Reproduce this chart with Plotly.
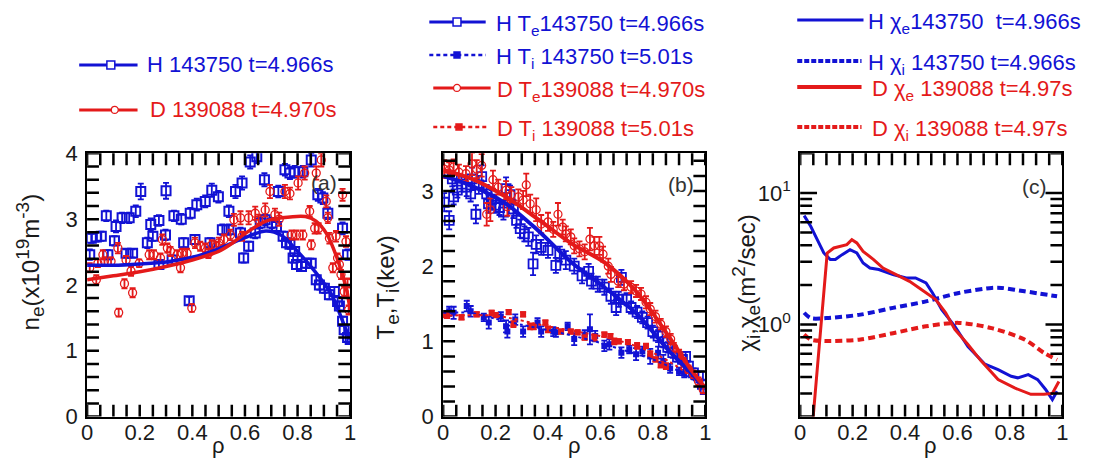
import plotly.graph_objects as go

BLUE = "#1212d4"
RED = "#e41a1a"
FONT = "Liberation Sans, Arial, sans-serif"
W, H = 1096, 463

# ---------------- panel (a): n_e ----------------
a_h_rho = [0.01, 0.016, 0.035, 0.054, 0.073, 0.079, 0.104, 0.11, 0.133, 0.148, 0.16, 0.173, 0.185, 0.204,
           0.229, 0.242, 0.25, 0.273, 0.273, 0.298, 0.30, 0.323, 0.33, 0.358, 0.367, 0.388, 0.392, 0.41,
           0.417, 0.449, 0.467, 0.474, 0.499, 0.514, 0.539, 0.539, 0.564, 0.583, 0.589, 0.595, 0.614,
           0.62, 0.639, 0.645, 0.658, 0.674, 0.677, 0.702, 0.72, 0.727, 0.745, 0.752, 0.758, 0.771,
           0.771, 0.783, 0.789, 0.789, 0.796, 0.815, 0.82, 0.833, 0.852, 0.852, 0.871, 0.877, 0.883,
           0.896, 0.902, 0.915, 0.921, 0.94, 0.952, 0.959, 0.971, 0.971, 0.977, 0.99, 0.99, 1.0]
a_h_ne = [2.46, 2.71, 2.73, 2.74, 3.05, 2.46, 2.67, 2.89, 3.02, 2.48, 3.02, 2.48, 3.12, 3.42,
          2.64, 2.92, 2.74, 2.98, 2.31, 2.76, 3.43, 2.38, 3.05, 3.00, 2.64, 1.76, 3.09, 2.69,
          3.22, 3.27, 2.64, 3.44, 3.34, 2.84, 3.12, 2.84, 3.42, 2.79, 3.55, 2.41, 2.59,
          3.87, 2.79, 3.95, 2.94, 3.60, 2.99, 2.94, 2.89, 3.42, 2.74, 3.75, 2.64, 3.70,
          2.62, 2.41, 3.72, 2.51, 2.31, 2.28, 3.72, 2.33, 3.90, 2.33, 2.08, 3.37, 2.00,
          3.32, 1.95, 3.09, 1.85, 1.90, 1.75, 1.68, 2.86, 1.45, 1.32, 2.46, 1.20, 1.17]
a_h_err = [0.08, 0.07, 0.07, 0.07, 0.08, 0.07, 0.07, 0.09, 0.08, 0.06, 0.08, 0.06, 0.09, 0.12,
           0.08, 0.09, 0.07, 0.08, 0.07, 0.08, 0.12, 0.07, 0.08, 0.08, 0.07, 0.06, 0.08, 0.07,
           0.09, 0.09, 0.07, 0.1, 0.09, 0.08, 0.09, 0.08, 0.1, 0.08, 0.1, 0.07, 0.07,
           0.1, 0.08, 0.1, 0.08, 0.1, 0.08, 0.08, 0.08, 0.09, 0.07, 0.09, 0.07, 0.09,
           0.07, 0.07, 0.09, 0.07, 0.07, 0.07, 0.09, 0.07, 0.1, 0.07, 0.07, 0.09, 0.07,
           0.09, 0.07, 0.09, 0.07, 0.07, 0.07, 0.07, 0.09, 0.07, 0.07, 0.08, 0.06, 0.06]
a_d_rho = [0.01, 0.035, 0.041, 0.06, 0.066, 0.091, 0.117, 0.12, 0.142, 0.148, 0.167, 0.173, 0.198,
           0.236, 0.254, 0.279, 0.286, 0.305, 0.317, 0.342, 0.355, 0.361, 0.38, 0.398, 0.41, 0.43,
           0.449, 0.461, 0.474, 0.492, 0.501, 0.52, 0.545, 0.558, 0.583, 0.589, 0.614, 0.639, 0.652,
           0.677, 0.695, 0.714, 0.73, 0.752, 0.771, 0.777, 0.796, 0.802, 0.82, 0.827, 0.846, 0.852,
           0.865, 0.871, 0.88, 0.89, 0.909, 0.915, 0.921, 0.934, 0.946, 0.952, 0.959, 0.965, 0.971,
           0.977, 0.984, 0.99, 0.994]
a_d_ne = [2.26, 2.08, 2.33, 2.46, 2.36, 2.36, 2.56, 1.58, 2.02, 2.38, 2.21, 1.88, 2.33,
          2.46, 2.46, 2.41, 2.69, 2.56, 2.51, 2.46, 2.26, 2.48, 2.48, 1.65, 2.64, 2.59,
          2.56, 2.48, 2.61, 2.59, 2.64, 2.69, 2.76, 2.99, 3.02, 2.74, 3.02, 3.09, 2.99,
          3.14, 3.42, 3.07, 3.00, 3.42, 3.39, 2.76, 2.76, 3.55, 2.76, 3.70, 3.12, 2.61,
          2.86, 3.70, 2.86, 3.90, 3.27, 3.02, 2.71, 2.26, 2.74, 2.41, 2.31, 2.16, 3.37,
          1.90, 2.66, 2.03, 1.62]
a_d_err = [0.07, 0.07, 0.06, 0.07, 0.06, 0.06, 0.08, 0.06, 0.07, 0.06, 0.07, 0.07, 0.06,
           0.07, 0.07, 0.07, 0.08, 0.07, 0.07, 0.07, 0.07, 0.07, 0.07, 0.06, 0.08, 0.07,
           0.07, 0.07, 0.07, 0.07, 0.08, 0.08, 0.08, 0.09, 0.1, 0.07, 0.1, 0.1, 0.08,
           0.1, 0.1, 0.09, 0.1, 0.1, 0.09, 0.07, 0.07, 0.1, 0.07, 0.1, 0.08, 0.07,
           0.08, 0.1, 0.08, 0.1, 0.09, 0.08, 0.08, 0.07, 0.08, 0.07, 0.07, 0.07, 0.09,
           0.07, 0.08, 0.07, 0.07]
a_h_fit_rho = [0.0, 0.1, 0.2, 0.3, 0.4, 0.5, 0.6, 0.68, 0.74, 0.8, 0.865, 0.93, 0.977, 1.0]
a_h_fit_ne = [2.30, 2.30, 2.32, 2.35, 2.42, 2.55, 2.72, 2.82, 2.75, 2.51, 2.21, 1.85, 1.39, 1.17]
a_d_fit_rho = [0.0, 0.1, 0.2, 0.3, 0.4, 0.5, 0.55, 0.6, 0.68, 0.74, 0.83, 0.87, 0.91, 0.95, 0.985, 1.0]
a_d_fit_ne = [2.08, 2.14, 2.20, 2.28, 2.38, 2.51, 2.63, 2.78, 2.97, 3.02, 3.04, 2.97, 2.78, 2.41, 1.95, 1.62]

# ---------------- panel (b): Te, Ti ----------------
b_hte_rho = [0.004, 0.023, 0.035, 0.04, 0.054, 0.07, 0.09, 0.105, 0.11, 0.125, 0.136, 0.147, 0.166,
             0.173, 0.185, 0.2, 0.215, 0.23, 0.24, 0.255, 0.268, 0.28, 0.294, 0.31, 0.325, 0.343,
             0.355, 0.374, 0.4, 0.43, 0.445, 0.468, 0.5, 0.53, 0.555, 0.566, 0.59, 0.615, 0.64,
             0.66, 0.67, 0.68, 0.70, 0.717, 0.74, 0.76, 0.78, 0.80, 0.82, 0.84, 0.857, 0.876,
             0.894, 0.913, 0.925, 0.936, 0.955, 0.974, 0.989, 1.0]
b_hte_t = [2.85, 2.61, 3.16, 2.92, 3.01, 3.09, 3.05, 2.96, 3.16, 2.69, 3.08, 3.19, 2.96,
           2.83, 2.89, 2.81, 2.78, 2.72, 3.03, 2.95, 2.76, 2.61, 2.50, 2.43, 2.39, 2.03,
           2.29, 2.25, 2.21, 2.01, 2.16, 2.08, 2.00, 1.87, 1.93, 1.80, 1.76, 1.72, 1.60,
           1.45, 1.56, 1.85, 1.56, 1.45, 1.39, 1.32, 1.25, 1.13, 1.07, 0.99, 0.92, 0.85,
           0.79, 0.76, 0.80, 0.67, 0.58, 0.54, 0.43, 0.36]
b_hte_err = [0.12, 0.12, 0.1, 0.1, 0.1, 0.1, 0.12, 0.1, 0.15, 0.12, 0.12, 0.15, 0.12,
             0.12, 0.12, 0.1, 0.1, 0.1, 0.15, 0.12, 0.12, 0.1, 0.12, 0.1, 0.12, 0.15,
             0.12, 0.1, 0.1, 0.1, 0.1, 0.12, 0.1, 0.1, 0.1, 0.1, 0.1, 0.1, 0.1,
             0.1, 0.1, 0.1, 0.08, 0.08, 0.08, 0.08, 0.08, 0.08, 0.08, 0.07, 0.07, 0.07,
             0.06, 0.06, 0.06, 0.06, 0.06, 0.05, 0.05, 0.05]
b_dte_rho = [0.004, 0.023, 0.04, 0.06, 0.087, 0.11, 0.128, 0.147, 0.166, 0.18, 0.19, 0.21, 0.24,
             0.245, 0.26, 0.287, 0.305, 0.317, 0.332, 0.355, 0.374, 0.40, 0.42, 0.438, 0.456, 0.468,
             0.487, 0.50, 0.52, 0.54, 0.56, 0.577, 0.596, 0.61, 0.63, 0.64, 0.668, 0.69, 0.717,
             0.736, 0.755, 0.774, 0.79, 0.81, 0.83, 0.85, 0.868, 0.88, 0.90, 0.917, 0.936, 0.955,
             0.974, 0.992]
b_dte_t = [3.29, 3.28, 3.32, 3.25, 3.23, 3.36, 3.29, 3.34, 2.69, 2.75, 3.15, 3.05, 3.01,
           2.79, 2.95, 2.92, 2.88, 3.08, 2.83, 2.75, 2.56, 2.59, 2.49, 2.69, 2.52, 2.43,
           2.39, 2.27, 2.23, 2.19, 2.36, 2.27, 2.27, 2.16, 2.00, 1.89, 1.80, 1.76, 1.72,
           1.67, 1.63, 1.52, 1.43, 1.33, 1.23, 1.13, 1.03, 0.92, 0.83, 0.72, 0.63, 0.56,
           0.47, 0.36]
b_dte_err = [0.12, 0.1, 0.1, 0.1, 0.1, 0.15, 0.12, 0.15, 0.15, 0.15, 0.12, 0.1, 0.12,
             0.12, 0.1, 0.1, 0.12, 0.15, 0.12, 0.15, 0.12, 0.12, 0.1, 0.15, 0.1, 0.1,
             0.1, 0.1, 0.1, 0.1, 0.15, 0.12, 0.12, 0.1, 0.1, 0.1, 0.08, 0.08, 0.08,
             0.08, 0.08, 0.08, 0.08, 0.08, 0.07, 0.07, 0.07, 0.06, 0.06, 0.06, 0.05, 0.05,
             0.05, 0.05]
b_hti_rho = [0.023, 0.04, 0.09, 0.105, 0.155, 0.174, 0.22, 0.24, 0.245, 0.275, 0.305, 0.36, 0.374,
             0.42, 0.43, 0.475, 0.50, 0.54, 0.56, 0.58, 0.615, 0.634, 0.68, 0.71, 0.736, 0.76,
             0.79, 0.82, 0.84, 0.866, 0.90, 0.92]
b_hti_t = [1.40, 1.38, 1.47, 1.40, 1.32, 1.25, 1.33, 1.20, 1.13, 1.29, 1.13, 1.25, 1.13,
           1.13, 1.12, 1.20, 1.03, 1.09, 1.16, 1.07, 0.94, 0.96, 0.85, 0.89, 0.83, 0.87,
           0.80, 0.85, 0.74, 0.64, 0.60, 0.57]
b_hti_err = [0.06, 0.08, 0.07, 0.07, 0.05, 0.08, 0.06, 0.08, 0.08, 0.07, 0.07, 0.06, 0.07,
             0.06, 0.06, 0.05, 0.08, 0.06, 0.2, 0.07, 0.07, 0.07, 0.07, 0.05, 0.08, 0.06,
             0.1, 0.08, 0.08, 0.06, 0.05, 0.05]
b_dti_rho = [0.004, 0.015, 0.07, 0.128, 0.185, 0.2, 0.25, 0.268, 0.305, 0.332, 0.345, 0.39, 0.40,
             0.45, 0.487, 0.513, 0.54, 0.577, 0.615, 0.638, 0.653, 0.67, 0.705, 0.74, 0.774, 0.79,
             0.81, 0.83, 0.85]
b_dti_t = [1.35, 1.34, 1.32, 1.36, 1.38, 1.35, 1.39, 1.23, 1.36, 1.20, 1.19, 1.25, 1.16,
           1.13, 1.13, 1.12, 1.05, 1.05, 1.09, 1.07, 1.00, 1.00, 0.99, 0.94, 0.94, 0.83,
           0.76, 0.69, 0.67]
b_dti_err = [0.03, 0.03, 0.03, 0.03, 0.03, 0.03, 0.03, 0.04, 0.03, 0.04, 0.03, 0.03, 0.04,
             0.03, 0.03, 0.03, 0.03, 0.04, 0.03, 0.03, 0.04, 0.03, 0.03, 0.04, 0.03, 0.04,
             0.03, 0.04, 0.04]
b_hte_fit_rho = [0.0, 0.1, 0.24, 0.36, 0.49, 0.615, 0.74, 0.868, 0.94, 1.0]
b_hte_fit_t = [3.20, 3.08, 2.83, 2.48, 2.05, 1.72, 1.36, 0.85, 0.60, 0.38]
b_dte_fit_rho = [0.0, 0.11, 0.24, 0.36, 0.49, 0.615, 0.74, 0.868, 0.94, 1.0]
b_dte_fit_t = [3.28, 3.16, 2.92, 2.63, 2.30, 2.05, 1.65, 1.03, 0.65, 0.38]
b_hti_fit_rho = [0.0, 0.1, 0.2, 0.3, 0.4, 0.5, 0.6, 0.7, 0.8, 0.9, 1.0]
b_hti_fit_t = [1.38, 1.38, 1.30, 1.22, 1.15, 1.07, 0.98, 0.87, 0.76, 0.60, 0.38]
b_dti_fit_rho = [0.0, 0.2, 0.4, 0.6, 0.7, 0.8, 0.9, 1.0]
b_dti_fit_t = [1.34, 1.34, 1.20, 1.07, 0.98, 0.85, 0.65, 0.38]

# ---------------- panel (c): chi ----------------
c_hce_rho = [0.015, 0.04, 0.065, 0.09, 0.115, 0.134, 0.16, 0.19, 0.216, 0.24, 0.266, 0.30, 0.354,
             0.404, 0.44, 0.48, 0.505, 0.54, 0.59, 0.64, 0.705, 0.755, 0.805, 0.83, 0.87, 0.906,
             0.937, 0.962, 0.98]
c_hce = [6.73, 5.58, 4.42, 3.50, 3.12, 3.12, 3.40, 3.71, 3.50, 2.94, 2.69, 2.62, 2.40,
         2.26, 2.26, 2.07, 1.74, 1.30, 0.97, 0.68, 0.50, 0.455, 0.405, 0.394, 0.417, 0.382,
         0.32, 0.269, 0.312]
c_dce_rho = [0.04, 0.103, 0.128, 0.153, 0.178, 0.197, 0.216, 0.24, 0.28, 0.316, 0.366, 0.417, 0.454,
             0.49, 0.517, 0.555, 0.59, 0.64, 0.69, 0.755, 0.818, 0.88, 0.93, 0.962, 0.987]
c_dce = [0.12, 3.50, 3.82, 3.93, 4.05, 4.42, 4.17, 3.60, 3.12, 2.69, 2.40, 2.13, 1.90,
         1.69, 1.55, 1.23, 0.92, 0.705, 0.53, 0.382, 0.33, 0.295, 0.295, 0.30, 0.37]
c_hci_rho = [0.015, 0.04, 0.10, 0.23, 0.354, 0.48, 0.605, 0.73, 0.768, 0.856, 0.98]
c_hci = [1.23, 1.12, 1.12, 1.19, 1.34, 1.50, 1.74, 1.90, 1.90, 1.79, 1.64]
c_dci_rho = [0.015, 0.04, 0.10, 0.23, 0.354, 0.48, 0.605, 0.73, 0.856, 0.93, 0.98]
c_dci = [0.84, 0.77, 0.75, 0.77, 0.86, 0.97, 1.03, 0.94, 0.77, 0.61, 0.54]

# tick positions (axis decoration)
x_minor_ticks = [round(0.05 * i, 2) for i in range(21)]
a_y_ticks = [round(0.2 * i, 1) for i in range(21)]
b_y_ticks = [round(0.2 * i, 1) for i in range(18)]
c_y_major = [1, 10]
c_y_minor = [0.2, 0.3, 0.4, 0.5, 0.6, 0.7, 0.8, 0.9, 2, 3, 4, 5, 6, 7, 8, 9, 20]

fig = go.Figure()


def pts(x, y, err, xa, ya, color, symbol, size, lw):
    fig.add_trace(go.Scatter(
        x=x, y=y, xaxis=xa, yaxis=ya, mode="markers", showlegend=False,
        marker=dict(symbol=symbol, size=size, color=color, line=dict(width=lw, color=color)),
        error_y=dict(type="data", array=err, color=color, thickness=1.8, width=3)))


def line(x, y, xa, ya, color, width, dash="solid", shape="spline"):
    fig.add_trace(go.Scatter(
        x=x, y=y, xaxis=xa, yaxis=ya, mode="lines", showlegend=False,
        line=dict(color=color, width=width, dash=dash, shape=shape, smoothing=0.8)))


pts(a_h_rho, a_h_ne, a_h_err, "x", "y", BLUE, "square-open", 9, 2)
pts(a_d_rho, a_d_ne, a_d_err, "x", "y", RED, "circle-open", 8, 1.3)
line(a_h_fit_rho, a_h_fit_ne, "x", "y", BLUE, 3.5)
line(a_d_fit_rho, a_d_fit_ne, "x", "y", RED, 3.5)

pts(b_hti_rho, b_hti_t, b_hti_err, "x2", "y2", BLUE, "square", 6, 0)
pts(b_dti_rho, b_dti_t, b_dti_err, "x2", "y2", RED, "square", 6, 0)
line(b_hti_fit_rho, b_hti_fit_t, "x2", "y2", BLUE, 2, "3px,3px")
line(b_dti_fit_rho, b_dti_fit_t, "x2", "y2", RED, 2, "3px,3px")
pts(b_hte_rho, b_hte_t, b_hte_err, "x2", "y2", BLUE, "square-open", 9, 1.8)
pts(b_dte_rho, b_dte_t, b_dte_err, "x2", "y2", RED, "circle-open", 8, 1.2)
line(b_hte_fit_rho, b_hte_fit_t, "x2", "y2", BLUE, 4)
line(b_dte_fit_rho, b_dte_fit_t, "x2", "y2", RED, 4)

line(c_hci_rho, c_hci, "x3", "y3", BLUE, 4, "7px,4px")
line(c_dci_rho, c_dci, "x3", "y3", RED, 4, "7px,4px")
line(c_hce_rho, c_hce, "x3", "y3", BLUE, 3, shape="linear")
line(c_dce_rho, c_dce, "x3", "y3", RED, 3, shape="linear")


# vertical placement helper: target picture row -> page row (the photographed page
# comes out slightly squeezed vertically, so layout rows are stretched to compensate)
def Y(v):
    return (v - 12) / 0.947


def px(x):
    return x / W


def py(y):
    return 1 - Y(y) / H


TICKFONT = dict(family=FONT, size=22, color="#1a1a1a")
TOP, BOT = Y(153.5), Y(417)
PH = BOT - TOP


def axis_common():
    return dict(showline=True, linewidth=2, linecolor="black", mirror=True, showgrid=False,
                zeroline=False, tickfont=TICKFONT, ticks="")


def xax(x0, x1, anchor):
    d = axis_common()
    d.update(domain=[x0 / W, x1 / W], anchor=anchor, range=[0, 1], dtick=0.2,
             ticklabelstandoff=-5)
    return d


def yax(anchor, rng, dt):
    d = axis_common()
    d.update(domain=[1 - BOT / H, 1 - TOP / H], anchor=anchor, range=rng, dtick=dt,
             ticklabelstandoff=3)
    return d


yc = yax("x3", [-0.69897, 1.30103], None)
yc.pop("dtick")
yc.update(type="log", tickmode="array", tickvals=c_y_major,
          ticktext=["10<sup>0</sup>", "10<sup>1</sup>"])

fig.update_layout(
    width=W, height=H, margin=dict(l=0, r=0, t=0, b=0),
    paper_bgcolor="white", plot_bgcolor="white", showlegend=False,
    font=dict(family=FONT),
    xaxis=xax(82, 348, "y"), yaxis=yax("x", [0, 4], 1),
    xaxis2=xax(442, 707, "y2"), yaxis2=yax("x2", [0, 3.5], 1),
    xaxis3=xax(803, 1068, "y3"), yaxis3=yc,
)

ann = []
shapes = []

TICK = dict(color="black", width=2.5)
for xr, yr in (("x", "y"), ("x2", "y2"), ("x3", "y3")):
    L = 12.5 / PH
    for v in x_minor_ticks:
        for y0, y1 in ((0, L), (1, 1 - L)):
            shapes.append(dict(type="line", xref=xr, yref=yr + " domain", x0=v, x1=v,
                               y0=y0, y1=y1, line=TICK, layer="above"))


def yticks(xr, yr, vals, length, pw):
    L = length / pw
    for v in vals:
        for x0, x1 in ((0, L), (1, 1 - L)):
            shapes.append(dict(type="line", xref=xr + " domain", yref=yr, x0=x0, x1=x1,
                               y0=v, y1=v, line=TICK, layer="above"))


yticks("x", "y", a_y_ticks, 12, 266)
yticks("x2", "y2", b_y_ticks, 12, 265)
yticks("x3", "y3", c_y_minor, 12, 265)
yticks("x3", "y3", c_y_major, 17, 265)


def text(x, y, s, color, size=22, xanchor="left", yanchor="middle", angle=0):
    ann.append(dict(x=px(x), y=py(y), xref="paper", yref="paper", text=s, showarrow=False,
                    xanchor=xanchor, yanchor=yanchor, textangle=angle, borderpad=0,
                    font=dict(family=FONT, size=size, color=color)))


SS = "<span style='font-size:19px'>%s</span>"
for cx in (215, 575, 935):
    ann.append(dict(x=px(cx), y=1 - 444 / H, xref="paper", yref="paper", text="ρ",
                    showarrow=False, xanchor="center", yanchor="top", borderpad=0,
                    font=dict(family=FONT, size=22, color="#1a1a1a")))
text(24, 262, "n<sub>" + SS % "e" + "</sub>(x10<sup>" + SS % "19" + "</sup>m<sup>" + SS % "-3"
     + "</sup>)", "#1a1a1a", 24, "center", "middle", -90)
text(386, 288, "T<sub>" + SS % "e" + "</sub>,T<sub>" + SS % "i" + "</sub>(kev)",
     "#1a1a1a", 24, "center", "middle", -90)
text(748, 283, "χ<sub>" + SS % "i" + "</sub>,χ<sub>" + SS % "e" + "</sub>(m<sup>" + SS % "2"
     + "</sup>/sec)", "#1a1a1a", 24, "center", "middle", -90)
text(322, 183, "(a)", "#333333", 21, "center")
text(682, 185, "(b)", "#333333", 21, "center")
text(1040, 187, "(c)", "#333333", 21, "center")


def lline(x0, x1, y, color, width, dash="solid"):
    shapes.append(dict(type="line", xref="paper", yref="paper", x0=px(x0), x1=px(x1),
                       y0=py(y), y1=py(y), line=dict(color=color, width=width, dash=dash)))


def lsq(cx, cy, s, color, filled):
    shapes.append(dict(type="rect", xref="paper", yref="paper", x0=px(cx - s), x1=px(cx + s),
                       y0=py(cy + s), y1=py(cy - s), fillcolor=color if filled else "white",
                       line=dict(color=color, width=1.5)))


def lcirc(cx, cy, r, color):
    shapes.append(dict(type="circle", xref="paper", yref="paper", x0=px(cx - r), x1=px(cx + r),
                       y0=py(cy + r), y1=py(cy - r), fillcolor="white",
                       line=dict(color=color, width=1.2)))


lline(74, 133, 65, BLUE, 3); lsq(106, 65, 4, BLUE, False)
text(142, 65, "H 143750 t=4.966s", BLUE)
lline(74, 133, 110, RED, 3); lcirc(110, 110, 3.5, RED)
text(145, 110, "D 139088 t=4.970s", RED)

lline(428, 485, 22, BLUE, 3); lsq(456, 22, 4, BLUE, False)
text(494, 25, "H T<sub>e</sub>143750 t=4.966s", BLUE)
lline(428, 485, 55, BLUE, 2.5, "4px,3px"); lsq(456, 55, 3, BLUE, True)
text(494, 58, "H T<sub>i</sub> 143750 t=5.01s", BLUE)
lline(432, 490, 88, RED, 3); lcirc(456, 88, 3.5, RED)
text(495, 91, "D T<sub>e</sub>139088 t=4.970s", RED)
lline(432, 488, 127, RED, 2.5, "4px,3px"); lsq(458, 127, 3, RED, True)
text(495, 130, "D T<sub>i</sub> 139088 t=5.01s", RED)

lline(800, 867, 20, BLUE, 3)
text(871, 23, "H χ<sub>e</sub>143750&nbsp; t=4.966s", BLUE)
lline(800, 865, 61, BLUE, 4, "5px,2px")
text(871, 64, "H χ<sub>i</sub> 143750 t=4.966s", BLUE)
lline(800, 865, 87, RED, 4)
text(875, 90, "D χ<sub>e</sub> 139088 t=4.97s", RED)
lline(800, 865, 127, RED, 4, "5px,2px")
text(875, 130, "D χ<sub>i</sub> 139088 t=4.97s", RED)

fig.update_layout(annotations=ann, shapes=shapes)
fig.write_html("out.html")
